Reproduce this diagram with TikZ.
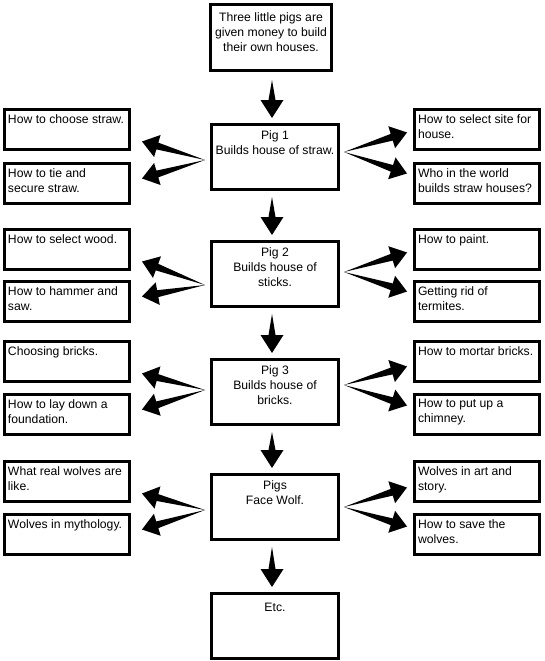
\documentclass[tikz,border=0pt]{standalone}
\usepackage{fontspec}
\setmainfont{Liberation Sans}
\usetikzlibrary{calc}

\tikzset{
  pigbox/.style={draw, line width=2.6pt, anchor=north west, inner sep=0pt,
    minimum width=127.4pt, minimum height=65.4pt,
    font=\fontsize{12.2pt}{15pt}\selectfont},
  sidebox/.style={draw, line width=2.6pt, anchor=north west, inner sep=0pt,
    minimum width=125.4pt, minimum height=40.4pt,
    font=\fontsize{12.2pt}{15pt}\selectfont},
}

\newcommand{\centertext}[2]{\parbox[c][#1][t]{121pt}{\centering #2}}
\newcommand{\sidetext}[1]{\parbox[c][30.2pt][t]{118pt}{\raggedright #1}}

% tapered arrow: start point, tip
\newcommand{\fatarrow}[3][16pt]{%
  \coordinate (fa-s) at #2;
  \coordinate (fa-t) at #3;
  \coordinate (fa-b) at ($(fa-t)!#1!(fa-s)$);
  \fill (fa-s) -- ($(fa-b)!3.5pt!90:(fa-t)$) -- ($(fa-b)!11.5pt!90:(fa-t)$) -- (fa-t)
    -- ($(fa-b)!11.5pt!-90:(fa-t)$) -- ($(fa-b)!3.5pt!-90:(fa-t)$) -- cycle;
}

\begin{document}
\begin{tikzpicture}[x=1pt, y=-1pt]
    \useasboundingbox (0,0) rectangle (545,661);

    % Start
    \node[pigbox, minimum width=121.4pt, minimum height=66.4pt] (start) at (209,3)
        {\centertext{49pt}{Three little pigs are\\given money to build\\their own houses.}};

    % Pig 1 - straw
    \node[pigbox] (pig1) at (210,123) {\centertext{52pt}{Pig 1\\Builds house of straw.}};
    \node[sidebox] (choose) at (3,108) {\sidetext{How to choose straw.}};
    \node[sidebox] (tie) at (3,162) {\sidetext{How to tie and\\secure straw.}};
    \node[sidebox] (site) at (413,108) {\sidetext{How to select site for\\house.}};
    \node[sidebox] (world) at (413,162) {\sidetext{Who in the world\\builds straw houses?}};

    % Pig 2 - sticks
    \node[pigbox] (pig2) at (210,240) {\centertext{52pt}{Pig 2\\Builds house of\\sticks.}};
    \node[sidebox] (wood) at (3,228) {\sidetext{How to select wood.}};
    \node[sidebox] (hammer) at (3,280) {\sidetext{How to hammer and\\saw.}};
    \node[sidebox] (paint) at (413,228) {\sidetext{How to paint.}};
    \node[sidebox] (termites) at (413,280) {\sidetext{Getting rid of\\termites.}};

    % Pig 3 - bricks
    \node[pigbox] (pig3) at (210,358) {\centertext{52pt}{Pig 3\\Builds house of\\bricks.}};
    \node[sidebox] (bricks) at (3,340) {\sidetext{Choosing bricks.}};
    \node[sidebox] (found) at (3,393) {\sidetext{How to lay down a\\foundation.}};
    \node[sidebox] (mortar) at (413,340) {\sidetext{How to mortar bricks.}};
    \node[sidebox] (chimney) at (413,393) {\sidetext{How to put up a\\chimney.}};

    % Wolf
    \node[pigbox] (wolf) at (210,473) {\centertext{52pt}{Pigs\\Face Wolf.}};
    \node[sidebox] (real) at (3,460) {\sidetext{What real wolves are\\like.}};
    \node[sidebox] (myth) at (3,513) {\sidetext{Wolves in mythology.}};
    \node[sidebox] (art) at (413,460) {\sidetext{Wolves in art and\\story.}};
    \node[sidebox] (save) at (413,513) {\sidetext{How to save the\\wolves.}};

    % Etc
    \node[pigbox] (etc) at (210,592) {\centertext{46pt}{Etc.}};

    % Down arrows
    \fatarrow[18pt]{($(start.south)+(1,8)$)}{($(pig1.north)+(-3,-5)$)}
    \fatarrow[18pt]{($(pig1.south)+(-3,6)$)}{($(pig2.north)+(-3,-5)$)}
    \fatarrow[18pt]{($(pig2.south)+(-3,6)$)}{($(pig3.north)+(-3,-5)$)}
    \fatarrow[18pt]{($(pig3.south)+(-3,6)$)}{($(wolf.north)+(-3,-5)$)}
    \fatarrow[18pt]{($(wolf.south)+(-3,6)$)}{($(etc.north)+(-3,-5)$)}

    % Side arrows, left
    \fatarrow{($(pig1.west)+(-5,3)$)}{($(choose.east)+(11,12)$)}
    \fatarrow{($(pig1.west)+(-5,3)$)}{($(tie.east)+(11,-5)$)}
    \fatarrow{($(pig2.west)+(-5,11)$)}{($(wood.east)+(11,12)$)}
    \fatarrow{($(pig2.west)+(-5,11)$)}{($(hammer.east)+(11,-5)$)}
    \fatarrow{($(pig3.west)+(-5,-2)$)}{($(bricks.east)+(11,12)$)}
    \fatarrow{($(pig3.west)+(-5,-2)$)}{($(found.east)+(11,-5)$)}
    \fatarrow{($(wolf.west)+(-5,3)$)}{($(real.east)+(11,12)$)}
    \fatarrow{($(wolf.west)+(-5,3)$)}{($(myth.east)+(11,-5)$)}

    % Side arrows, right
    \fatarrow{($(pig1.east)+(4,-5)$)}{($(site.west)+(-6,3)$)}
    \fatarrow{($(pig1.east)+(4,-5)$)}{($(world.west)+(-6,-10)$)}
    \fatarrow{($(pig2.east)+(4,-2)$)}{($(paint.west)+(-6,3)$)}
    \fatarrow{($(pig2.east)+(4,-2)$)}{($(termites.west)+(-6,-10)$)}
    \fatarrow{($(pig3.east)+(4,-7)$)}{($(mortar.west)+(-6,5)$)}
    \fatarrow{($(pig3.east)+(4,-7)$)}{($(chimney.west)+(-6,-9)$)}
    \fatarrow{($(wolf.east)+(4,0)$)}{($(art.west)+(-6,6)$)}
    \fatarrow{($(wolf.east)+(4,0)$)}{($(save.west)+(-6,-8)$)}
\end{tikzpicture}
\end{document}
